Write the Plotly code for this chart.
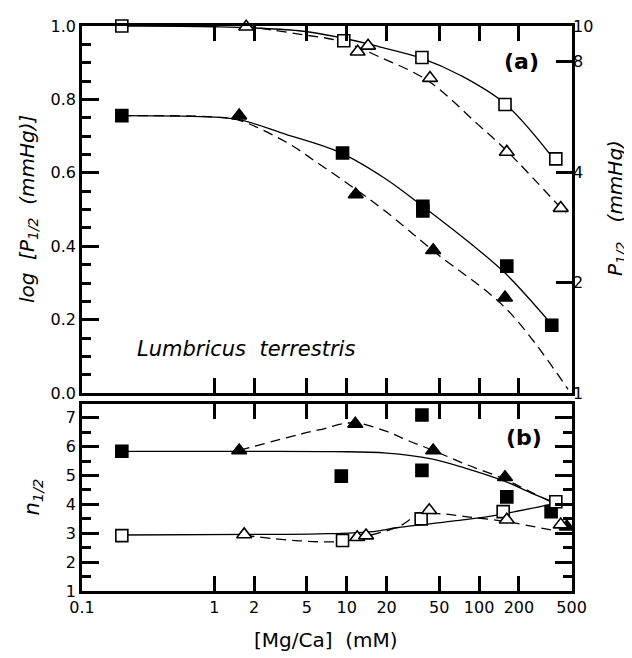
import plotly.graph_objects as go

# ---- panel (a): log P1/2 vs [Mg/Ca] ----
a_sq_open_x = [0.2, 9.5, 37, 157, 380]
a_sq_open_y = [1.0, 0.96, 0.914, 0.786, 0.638]
a_tri_open_x = [1.74, 12.1, 14.5, 42.6, 162, 414]
a_tri_open_y = [0.998, 0.93, 0.946, 0.858, 0.657, 0.504]
a_sq_fill_x = [0.2, 9.3, 37.6, 37.6, 162, 354]
a_sq_fill_y = [0.756, 0.654, 0.509, 0.496, 0.346, 0.185]
a_tri_fill_x = [1.54, 11.7, 45, 157]
a_tri_fill_y = [0.756, 0.541, 0.389, 0.26]

# fitted curves
a_fit_open_x = [0.2, 1.0, 4.35, 9.1, 17.4, 37, 72, 155, 348]
a_fit_open_y = [1.0, 0.998, 0.987, 0.968, 0.944, 0.912, 0.866, 0.79, 0.648]
a_fit_open_d_x = [1.7, 4.35, 9.1, 17.4, 41.4, 98, 165, 450]
a_fit_open_d_y = [1.0, 0.978, 0.958, 0.917, 0.85, 0.732, 0.657, 0.49]
a_fit_fill_x = [0.2, 1.0, 1.54, 3.47, 8.7, 19.6, 36.6, 82.6, 157, 342]
a_fit_fill_y = [0.756, 0.752, 0.745, 0.705, 0.657, 0.584, 0.512, 0.413, 0.327, 0.193]
a_fit_fill_d_x = [0.2, 1.0, 1.54, 3.47, 6.15, 10.9, 19.5, 46.7, 162, 470]
a_fit_fill_d_y = [0.756, 0.752, 0.743, 0.684, 0.625, 0.563, 0.496, 0.383, 0.228, 0.01]

# ---- panel (b): n1/2 vs [Mg/Ca] ----
b_sq_fill_x = [0.2, 9.1, 37, 37, 162, 350]
b_sq_fill_y = [5.84, 4.98, 7.1, 5.18, 4.26, 3.75]
b_tri_fill_x = [1.54, 11.6, 45, 157, 460]
b_tri_fill_y = [5.87, 6.79, 5.87, 4.94, 3.23]
b_sq_open_x = [0.2, 9.3, 36.5, 152, 380]
b_sq_open_y = [2.92, 2.75, 3.5, 3.75, 4.09]
b_tri_open_x = [1.68, 12, 14, 42, 162, 414]
b_tri_open_y = [2.96, 2.86, 2.92, 3.8, 3.47, 3.3]

b_fit_fill_x = [0.2, 2, 8, 20, 43.6, 78.5, 157, 246, 380]
b_fit_fill_y = [5.84, 5.84, 5.83, 5.78, 5.58, 5.26, 4.8, 4.4, 4.05]
b_fit_fill_d_x = [1.54, 4.35, 6.15, 11.2, 19.5, 29.2, 45, 78.5, 157, 246, 370]
b_fit_fill_d_y = [5.87, 6.42, 6.58, 6.83, 6.55, 6.21, 5.87, 5.4, 4.87, 4.43, 4.03]
b_fit_open_x = [0.2, 2, 6.15, 15, 24.6, 78.5, 139, 370]
b_fit_open_y = [2.94, 2.96, 2.98, 3.05, 3.2, 3.47, 3.64, 4.03]
b_fit_open_d_x = [1.68, 4.35, 9.2, 13.8, 24.6, 35, 49, 78.5, 157, 390]
b_fit_open_d_y = [2.93, 2.74, 2.72, 2.89, 3.23, 3.64, 3.68, 3.58, 3.41, 3.07]

x_ticks = [0.1, 1, 2, 5, 10, 20, 50, 100, 200, 500]
x_ticktext = ["0.1", "1", "2", "5", "10", "20", "50", "100", "200", "500"]
p_ticks = [1, 2, 4, 8, 10]

FONT = "DejaVu Sans, Arial, sans-serif"
DASH = "10px,6px"

fig = go.Figure()


def curve(x, y, xa, ya, dashed):
    fig.add_trace(go.Scatter(x=x, y=y, mode="lines", xaxis=xa, yaxis=ya,
                             line=dict(color="black", width=1.3, shape="spline",
                                       dash=DASH if dashed else "solid"),
                             showlegend=False, hoverinfo="skip"))


def points(x, y, xa, ya, symbol, filled):
    fig.add_trace(go.Scatter(x=x, y=y, mode="markers", xaxis=xa, yaxis=ya, cliponaxis=False,
                             marker=dict(symbol=symbol, size=12 if "square" in symbol else 13,
                                         color="black" if filled else "white",
                                         line=dict(color="black", width=1.6)),
                             showlegend=False))


# panel (a)
curve(a_fit_open_x, a_fit_open_y, "x2", "y", False)
curve(a_fit_open_d_x, a_fit_open_d_y, "x2", "y", True)
curve(a_fit_fill_x, a_fit_fill_y, "x2", "y", False)
curve(a_fit_fill_d_x, a_fit_fill_d_y, "x2", "y", True)
points(a_sq_open_x, a_sq_open_y, "x2", "y", "square", False)
points(a_tri_open_x, a_tri_open_y, "x2", "y", "triangle-up", False)
points(a_sq_fill_x, a_sq_fill_y, "x2", "y", "square", True)
points(a_tri_fill_x, a_tri_fill_y, "x2", "y", "triangle-up", True)

# invisible trace so the right-hand P1/2 axis is drawn
fig.add_trace(go.Scatter(x=[1], y=[1], xaxis="x2", yaxis="y3", mode="markers",
                         marker=dict(opacity=0), showlegend=False, hoverinfo="skip"))

# panel (b)
curve(b_fit_fill_x, b_fit_fill_y, "x", "y2", False)
curve(b_fit_fill_d_x, b_fit_fill_d_y, "x", "y2", True)
curve(b_fit_open_x, b_fit_open_y, "x", "y2", False)
curve(b_fit_open_d_x, b_fit_open_d_y, "x", "y2", True)
points(b_sq_fill_x, b_sq_fill_y, "x", "y2", "square", True)
points(b_tri_fill_x, b_tri_fill_y, "x", "y2", "triangle-up", True)
points(b_sq_open_x, b_sq_open_y, "x", "y2", "square", False)
points(b_tri_open_x, b_tri_open_y, "x", "y2", "triangle-up", False)

ax_common = dict(showline=True, linecolor="black", linewidth=2.5, showgrid=False,
                 zeroline=False, ticks="inside", tickcolor="black", tickwidth=2.5)
xrange_log = [-1, 2.702]

# page body has an 8px margin, so the figure is drawn 8px smaller
fig.update_layout(
    width=624, height=650,
    margin=dict(l=74, r=60, t=9, b=67),
    paper_bgcolor="white", plot_bgcolor="white",
    font=dict(family=FONT, size=16, color="black"),
    xaxis=dict(ax_common, type="log", range=xrange_log, anchor="y2", domain=[0, 1],
               tickvals=x_ticks, ticktext=x_ticktext, ticklen=15, mirror="ticks"),
    xaxis2=dict(ax_common, type="log", range=xrange_log, anchor="y", matches="x",
                tickvals=x_ticks, ticklen=15, mirror="ticks", showticklabels=False),
    yaxis=dict(ax_common, range=[0, 1], domain=[0.3502, 1], anchor="x2",
               tickvals=[0, 0.2, 0.4, 0.6, 0.8, 1.0], tickformat=".1f", ticklen=17,
               mirror=True,
               minor=dict(ticks="inside", dtick=0.05, ticklen=9, tickwidth=2.5,
                          tickcolor="black", showgrid=False)),
    yaxis3=dict(type="log", range=[0, 1], overlaying="y", side="right", anchor="x2",
                showgrid=False, zeroline=False, showline=False, ticks="inside",
                tickvals=p_ticks, ticktext=[str(v) for v in p_ticks], ticklen=16,
                tickwidth=2.5, tickcolor="black"),
    yaxis2=dict(ax_common, range=[1, 7.48], domain=[0, 0.331], anchor="x",
                tickvals=[1, 2, 3, 4, 5, 6, 7], ticklen=17, mirror="ticks",
                minor=dict(ticks="inside", dtick=0.5, ticklen=9, tickwidth=2.5,
                           tickcolor="black", showgrid=False)),
)

# text positions given in page pixels (plot area 82..572 x 17..591)
ann = [
    dict(text="<i>log  [P<sub>1/2</sub>  (mmHg)]</i>", x=28, y=203, textangle=-90, size=20),
    dict(text="<i>P<sub>1/2</sub></i>   <i>(mmHg)</i>", x=616, y=202, textangle=-90, size=20),
    dict(text="<i>n<sub>1/2</sub></i>", x=33, y=496, textangle=-90, size=21),
    dict(text="[Mg/Ca]  (mM)", x=326, y=641, textangle=0, size=20),
    dict(text="<i>Lumbricus  terrestris</i>", x=246, y=345, textangle=0, size=21),
    dict(text="<b>(a)</b>", x=521, y=53, textangle=0, size=22),
    dict(text="<b>(b)</b>", x=524, y=435, textangle=0, size=22),
]
for a in ann:
    fig.add_annotation(text=a["text"], xref="paper", yref="paper",
                       x=(a["x"] - 82) / 490, y=(591 - a["y"]) / 574,
                       xanchor="center", yanchor="middle", showarrow=False,
                       textangle=a["textangle"], font=dict(family=FONT, size=a["size"], color="black"))

fig.write_html("out.html")
